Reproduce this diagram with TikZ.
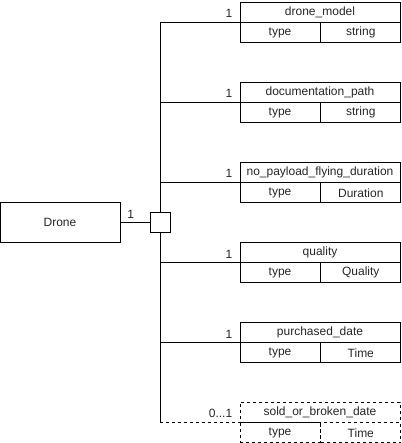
\documentclass[tikz,border=0pt]{standalone}
\usepackage{fontspec}
\setmainfont{Liberation Sans}
\usetikzlibrary{positioning}

\begin{document}
\begin{tikzpicture}[x=1pt, y=-1pt, line width=0.8pt,
    txt/.style={font=\fontsize{12}{14}\selectfont, text=black!85},
    entity/.style={draw, txt, minimum width=120pt, minimum height=40pt, inner sep=0pt},
    hubbox/.style={draw, minimum width=20pt, minimum height=20pt, inner sep=0pt},
    field/.style={draw, txt, minimum width=160pt, minimum height=20pt, inner sep=0pt},
    cell/.style={draw, txt, minimum width=80pt, minimum height=20pt, inner sep=0pt},
    mult/.style={txt, anchor=south east, inner sep=1pt}
]
    \useasboundingbox (0,0) rectangle (401,443);

    % Drone entity and its hub
    \node[entity] (drone) at (60,222) {Drone};
    \node[hubbox] (hub) at (160,222) {};
    \draw (drone.east) -- (hub.west) node[mult, pos=0.35, anchor=south, yshift=2pt] {1};

    % Solid attributes above the hub
    \foreach \i/\name/\kind/\y in {1/drone\_model/string/12, 2/documentation\_path/string/92, 3/no\_payload\_flying\_duration/Duration/172} {
        \node[field] (h\i) at (320,\y) {\name};
        \node[cell, anchor=north west] (t\i) at (h\i.south west) {type};
        \node[cell, anchor=north west] (v\i) at (t\i.north east) {\kind};
        \draw (hub.north) |- (h\i.south west);
        \node[mult] at ([xshift=-6pt, yshift=3pt]h\i.south west) {1};
    }

    % Solid attributes below the hub
    \foreach \i/\name/\kind/\y in {4/quality/Quality/252, 5/purchased\_date/Time/332} {
        \node[field] (h\i) at (320,\y) {\name};
        \node[cell, anchor=north west] (t\i) at (h\i.south west) {type};
        \node[cell, anchor=north west] (v\i) at (t\i.north east) {\kind};
        \draw (hub.south) |- (h\i.south west);
        \node[mult] at ([xshift=-6pt, yshift=3pt]h\i.south west) {1};
    }

    % Optional attribute (dashed)
    \node[field, dashed] (h6) at (320,412) {sold\_or\_broken\_date};
    \node[cell, dashed, anchor=north west] (t6) at (h6.south west) {type};
    \node[cell, dashed, anchor=north west] (v6) at (t6.north east) {Time};
    \draw (hub.south) -- (hub.south |- h6.south west) coordinate (corner);
    \draw[dashed] (corner) -- (h6.south west);
    \node[mult] at ([xshift=-6pt, yshift=3pt]h6.south west) {0...1};

\end{tikzpicture}
\end{document}
